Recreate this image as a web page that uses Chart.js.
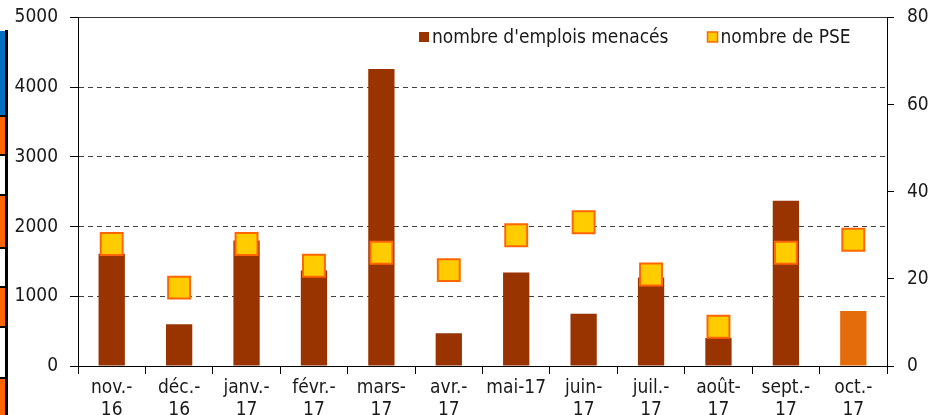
<!DOCTYPE html>
<html>
<head>
<meta charset="utf-8">
<script src="https://cdn.jsdelivr.net/npm/chart.js@4.4.0/dist/chart.umd.min.js"></script>
<style>
  html, body { margin: 0; padding: 0; background: #fff; }
  #wrap { position: relative; width: 933px; height: 415px; overflow: hidden; }
  canvas { position: absolute; left: 0; top: 0; }
  .strip { position: absolute; left: 0; width: 5px; }
</style>
</head>
<body>
<div id="wrap">
  <canvas id="chart" width="933" height="415"></canvas>
  <!-- bord gauche (reste d'une autre image) -->
  <div class="strip" style="top:30px;height:385px;left:5px;width:3px;background:#000"></div>
  <div class="strip" style="top:31px;height:84px;background:#0070c0"></div>
  <div class="strip" style="top:115px;height:2px;background:#000"></div>
  <div class="strip" style="top:117px;height:37px;background:#ff6600"></div>
  <div class="strip" style="top:154px;height:2px;background:#000"></div>
  <div class="strip" style="top:194px;height:2px;background:#000"></div>
  <div class="strip" style="top:196px;height:51px;background:#ff6600"></div>
  <div class="strip" style="top:247px;height:2px;background:#000"></div>
  <div class="strip" style="top:286px;height:2px;background:#000"></div>
  <div class="strip" style="top:288px;height:38px;background:#ff6600"></div>
  <div class="strip" style="top:326px;height:2px;background:#000"></div>
  <div class="strip" style="top:377px;height:2px;background:#000"></div>
  <div class="strip" style="top:379px;height:36px;background:#ff6600"></div>
</div>
<script>
// Données
const mois = [['nov.-', '16'], ['déc.-', '16'], ['janv.-', '17'], ['févr.-', '17'], ['mars-', '17'], ['avr.-', '17'],
              'mai-17', ['juin-', '17'], ['juil.-', '17'], ['août-', '17'], ['sept.-', '17'], ['oct.-', '17']];
const emploisMenaces = [1610, 600, 1800, 1370, 4260, 470, 1340, 750, 1270, 400, 2370, 790];
const nombrePSE = [28, 18, 28, 23, 26, 22, 30, 33, 21, 9, 26, 29];
const ticksGauche = [0, 1000, 2000, 3000, 4000, 5000];
const ticksDroite = [0, 20, 40, 60, 80];

const police = "'DejaVu Sans Condensed', 'DejaVu Sans', sans-serif";
const couleurTexte = '#1a1a1a';
const brun = '#993300';
const orangeDernier = '#e46c0a';

Chart.defaults.font.family = police;
Chart.defaults.font.size = 19;
Chart.defaults.color = couleurTexte;

// légende dessinée dans la zone du graphique
const legendeInterne = {
    id: 'legendeInterne',
    afterDraw(chart) {
        const ctx = chart.ctx;
        const y = 37;
        let x = 419;
        ctx.save();
        ctx.font = '19px ' + police;
        ctx.textBaseline = 'middle';
        chart.data.datasets.forEach((ds, i) => {
            if (i === 0) {
                ctx.fillStyle = brun;
                ctx.fillRect(x, y - 5, 10, 10);
            } else {
                ctx.fillStyle = '#ffcc00';
                ctx.fillRect(x, y - 5, 10, 10);
                ctx.strokeStyle = '#ff6600';
                ctx.lineWidth = 1.5;
                ctx.strokeRect(x, y - 5, 10, 10);
            }
            ctx.fillStyle = couleurTexte;
            ctx.fillText(ds.label, x + 13, y + 1);
            x += 13 + ctx.measureText(ds.label).width + 39;
        });
        ctx.restore();
    }
};

// pas de marge automatique pour les libellés qui dépassent
const sansMarge = s => { s.paddingTop = 0; s.paddingBottom = 0; };

new Chart(document.getElementById('chart'), {
    data: {
        labels: mois,
        datasets: [{
            type: 'bar',
            label: "nombre d'emplois menacés",
            data: emploisMenaces,
            backgroundColor: emploisMenaces.map((v, i) => i === emploisMenaces.length - 1 ? orangeDernier : brun),
            borderWidth: 0,
            categoryPercentage: 1,
            barPercentage: 0.39,
            yAxisID: 'y',
            order: 2
        }, {
            type: 'line',
            label: 'nombre de PSE',
            data: nombrePSE,
            showLine: false,
            pointStyle: 'rect',
            pointRadius: 15.5,
            pointBackgroundColor: '#ffcc00',
            pointBorderColor: '#ff6600',
            pointBorderWidth: 2,
            yAxisID: 'y1',
            order: 1
        }]
    },
    options: {
        responsive: false,
        animation: false,
        layout: { padding: { top: 16, left: 0, right: 0, bottom: 0 } },
        plugins: {
            legend: { display: false },
            tooltip: { enabled: false }
        },
        scales: {
            x: {
                offset: true,
                grid: {
                    offset: true,
                    drawOnChartArea: false,
                    tickLength: 8,
                    tickColor: '#000',
                    color: '#000'
                },
                border: { color: '#000', width: 1 },
                ticks: { padding: 3, maxRotation: 0, autoSkip: false, font: { size: 19, lineHeight: 1.15 } },
                afterFit: s => { s.height = 49; s.paddingLeft = 0; s.paddingRight = 0; }
            },
            y: {
                position: 'left',
                min: 0,
                max: 5000,
                afterBuildTicks: s => { s.ticks = ticksGauche.map(v => ({ value: v })); },
                grid: {
                    color: c => c.tick.value === 0 ? 'rgba(0,0,0,0)' : (c.tick.value === 5000 ? '#333' : '#404040'),
                    tickColor: '#000',
                    tickLength: 8
                },
                border: {
                    color: '#000',
                    dash: c => (c.tick && (c.tick.value === 5000)) ? [] : [5, 4]
                },
                ticks: { padding: 12, callback: v => String(v) },
                afterFit: s => { s.width = 78; sansMarge(s); }
            },
            y1: {
                position: 'right',
                min: 0,
                max: 80,
                afterBuildTicks: s => { s.ticks = ticksDroite.map(v => ({ value: v })); },
                grid: {
                    drawOnChartArea: false,
                    tickColor: '#000',
                    tickLength: 7
                },
                border: { color: '#000' },
                ticks: { padding: 13, callback: v => String(v) },
                afterFit: s => { s.width = 46; sansMarge(s); }
            }
        }
    },
    plugins: [legendeInterne]
});
</script>
</body>
</html>
